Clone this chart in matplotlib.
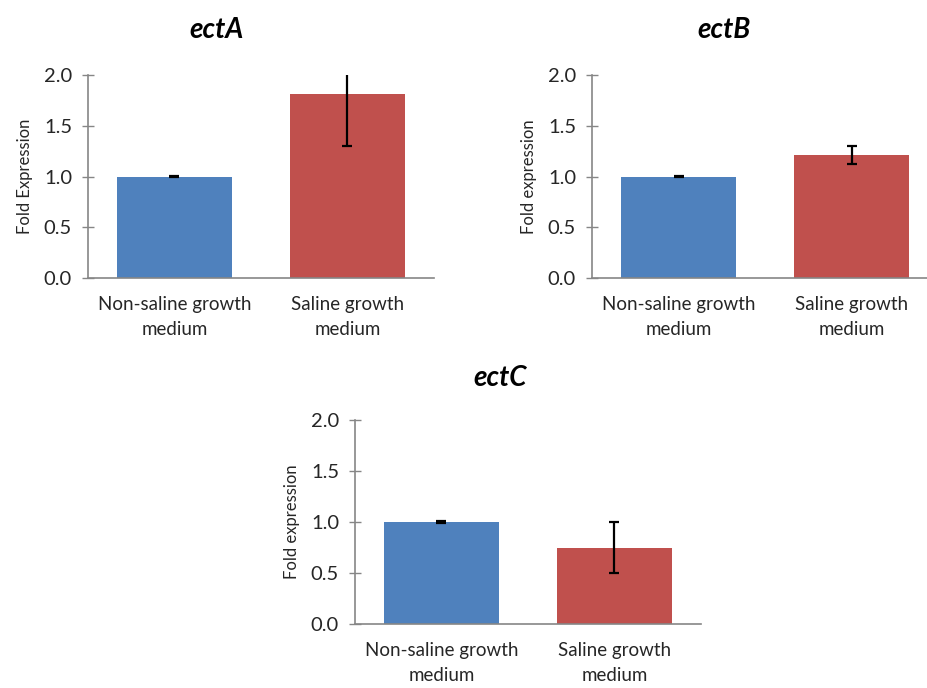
import matplotlib
matplotlib.use('Agg')
import matplotlib.pyplot as plt

# -- Data --
categories = ['Non-saline growth\nmedium', 'Saline growth\nmedium']
genes = ['ectA', 'ectB', 'ectC']
ylabels = ['Fold Expression', 'Fold expression', 'Fold expression']
ecta_values = [1.0, 1.81]
ecta_errors = [0.005, 0.51]
ectb_values = [1.0, 1.21]
ectb_errors = [0.005, 0.09]
ectc_values = [1.0, 0.75]
ectc_errors = [0.005, 0.25]
yticks = [0.0, 0.5, 1.0, 1.5, 2.0]

# -- Styling --
BLUE = '#4F81BD'
RED = '#C0504D'
AXIS_COLOR = '#868686'
TEXT_COLOR = '#262626'
plt.rcParams['font.family'] = ['Lato', 'DejaVu Sans']

W, H = 928, 688
fig = plt.figure(figsize=(W / 100, H / 100), dpi=100)
fig.patch.set_facecolor('white')

# axes boxes in pixels: (left, top, right, bottom)
boxes = [(88, 75, 434, 278), (592, 75, 938, 278), (355, 420, 701, 624)]
title_pos = [(217, 30), (724, 30), (500, 378)]
series = [(ecta_values, ecta_errors), (ectb_values, ectb_errors),
          (ectc_values, ectc_errors)]

for gene, ylab, (l, t, r, b), (tx, ty), (vals, errs) in zip(
        genes, ylabels, boxes, title_pos, series):
    ax = fig.add_axes([l / W, 1 - b / H, (r - l) / W, (b - t) / H])
    x = range(len(categories))
    ax.bar(x, vals, width=0.665, color=[BLUE, RED], zorder=2)
    ax.errorbar(x, vals, yerr=errs, fmt='none', ecolor='black',
                elinewidth=1.6, capsize=3.5, capthick=1.6, zorder=3)
    ax.set_xlim(-0.5, 1.5)
    ax.set_ylim(0, 2.0)
    ax.set_yticks(yticks)
    ax.set_yticklabels([f'{v:.1f}' for v in yticks])
    ax.set_xticks(list(x))
    ax.set_xticklabels(categories, fontsize=13.5, color=TEXT_COLOR,
                       linespacing=1.6)
    ax.tick_params(axis='x', length=0, pad=13)
    ax.tick_params(axis='y', direction='inout', length=9, width=1,
                   color=AXIS_COLOR, labelsize=14.5, labelcolor=TEXT_COLOR,
                   pad=7)
    for side in ['top', 'right']:
        ax.spines[side].set_visible(False)
    for side in ['left', 'bottom']:
        ax.spines[side].set_color(AXIS_COLOR)
        ax.spines[side].set_linewidth(1.2)
    ax.set_ylabel(ylab, fontsize=12, color=TEXT_COLOR, labelpad=8)
    fig.text(tx / W, 1 - ty / H, gene, fontsize=20, fontweight='bold',
             fontstyle='italic', color='black', ha='center', va='center')

fig.savefig('out.png', dpi=100, facecolor='white')
